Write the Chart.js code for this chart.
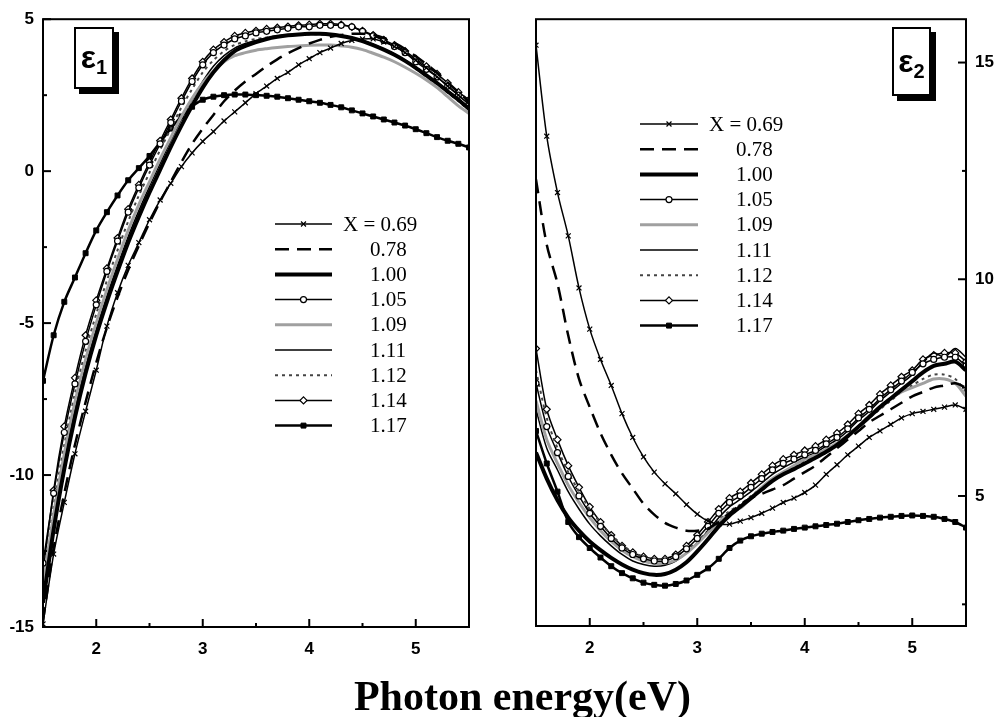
<!DOCTYPE html>
<html>
<head>
<meta charset="utf-8">
<script src="https://cdn.jsdelivr.net/npm/chart.js@4.4.1/dist/chart.umd.min.js"></script>
<style>
body{margin:0;background:#fff;width:1005px;height:717px;overflow:hidden;position:relative;font-family:'Liberation Sans',Arial,sans-serif}
canvas{position:absolute;top:0}
#c1{left:0}
#c2{left:505px}
.tag{position:absolute;background:#fff;border:2px solid #000;box-shadow:5px 5px 0 #000;font-weight:bold;color:#000;text-align:center;box-sizing:border-box}
.tag .e{font-size:32px}
.tag .s{font-size:20px;position:relative;top:6px}
#title{position:absolute;left:20px;top:675px;width:1005px;text-align:center;font-family:'Liberation Serif','Times New Roman',serif;font-weight:bold;font-size:42px;line-height:42px;color:#000}
</style>
</head>
<body>
<canvas id="c1" width="500" height="717"></canvas>
<canvas id="c2" width="500" height="717"></canvas>
<div class="tag" style="left:74px;top:27px;width:40px;height:62px;padding-top:10px"><span class="e">ε</span><span class="s">1</span></div>
<div class="tag" style="left:892px;top:27px;width:39px;height:69px;padding-top:14px"><span class="e">ε</span><span class="s">2</span></div>
<div id="title">Photon energy(eV)</div>
<script>
// photon energy (eV)
const energy = [1.5,1.6,1.7,1.8,1.9,2.0,2.1,2.2,2.3,2.4,
  2.5,2.6,2.7,2.8,2.9,3.0,3.1,3.2,3.3,3.4,
  3.5,3.6,3.7,3.8,3.9,4.0,4.1,4.2,4.3,4.4,
  4.5,4.6,4.7,4.8,4.9,5.0,5.1,5.2,5.3,5.4,5.5];

const seriesLabels = ['X = 0.69','0.78','1.00','1.05','1.09','1.11','1.12','1.14','1.17'];

// epsilon 1 (left panel)
const e1_069 = [-14.9,-12.6,-10.9,-9.3,-7.9,-6.55,-5.1,-4.0,-3.1,-2.35,
  -1.6,-0.95,-0.4,0.15,0.6,0.98,1.3,1.65,1.95,2.25,
  2.55,2.8,3.05,3.25,3.5,3.7,3.9,4.05,4.2,4.3,
  4.35,4.35,4.25,4.1,3.9,3.65,3.4,3.1,2.8,2.5,2.2];
const e1_078 = [-14.8,-12.4,-10.6,-9.0,-7.6,-6.3,-5.15,-4.15,-3.25,-2.45,
  -1.7,-1.0,-0.35,0.3,0.9,1.4,1.85,2.3,2.65,2.95,
  3.2,3.45,3.68,3.88,4.05,4.2,4.32,4.42,4.48,4.52,
  4.52,4.48,4.38,4.22,4.02,3.78,3.52,3.24,2.92,2.6,2.3];
const e1_100 = [-14.2,-11.8,-9.8,-8.1,-6.65,-5.4,-4.3,-3.3,-2.35,-1.5,
  -0.7,0.05,0.8,1.5,2.15,2.75,3.25,3.65,3.95,4.12,
  4.25,4.35,4.42,4.47,4.5,4.52,4.52,4.5,4.45,4.38,
  4.28,4.15,4.0,3.83,3.63,3.4,3.15,2.9,2.62,2.35,2.05];
const e1_105 = [-12.9,-10.6,-8.6,-7.0,-5.6,-4.4,-3.3,-2.3,-1.35,-0.55,
  0.2,0.9,1.6,2.3,2.95,3.5,3.9,4.15,4.35,4.45,
  4.55,4.6,4.65,4.7,4.75,4.75,4.8,4.8,4.8,4.75,
  4.6,4.45,4.3,4.1,3.9,3.6,3.35,3.1,2.8,2.5,2.2];
const e1_109 = [-13.6,-11.3,-9.3,-7.6,-6.2,-5.0,-3.9,-2.9,-1.95,-1.1,
  -0.35,0.4,1.1,1.8,2.4,2.9,3.3,3.6,3.8,3.9,
  3.98,4.03,4.07,4.1,4.12,4.14,4.15,4.15,4.12,4.08,
  4.0,3.88,3.75,3.6,3.42,3.22,3.0,2.75,2.45,2.15,1.9];
const e1_111 = [-13.9,-11.5,-9.5,-7.8,-6.4,-5.2,-4.1,-3.1,-2.15,-1.3,
  -0.5,0.25,1.0,1.7,2.35,2.95,3.45,3.8,4.05,4.2,
  4.3,4.38,4.44,4.48,4.5,4.52,4.52,4.5,4.46,4.4,
  4.3,4.18,4.02,3.85,3.65,3.42,3.18,2.92,2.65,2.38,2.1];
const e1_112 = [-13.4,-11.0,-9.0,-7.3,-5.9,-4.7,-3.6,-2.6,-1.65,-0.8,
  -0.05,0.7,1.4,2.1,2.7,3.25,3.65,3.95,4.15,4.27,
  4.35,4.4,4.45,4.48,4.5,4.5,4.5,4.48,4.44,4.38,
  4.28,4.15,4.0,3.82,3.62,3.38,3.12,2.86,2.58,2.3,2.0];
const e1_114 = [-13.2,-10.5,-8.4,-6.8,-5.4,-4.25,-3.2,-2.2,-1.25,-0.45,
  0.3,1.0,1.7,2.4,3.05,3.6,4.0,4.25,4.45,4.55,
  4.62,4.68,4.72,4.76,4.8,4.82,4.85,4.85,4.82,4.75,
  4.62,4.48,4.32,4.15,3.95,3.7,3.45,3.2,2.9,2.6,2.35];
const e1_117 = [-6.9,-5.4,-4.3,-3.5,-2.7,-1.95,-1.35,-0.8,-0.3,0.1,
  0.5,0.95,1.4,1.8,2.12,2.35,2.45,2.5,2.52,2.52,
  2.5,2.48,2.45,2.4,2.35,2.3,2.25,2.18,2.1,2.0,
  1.9,1.8,1.7,1.6,1.5,1.38,1.25,1.12,1.0,0.9,0.78];

// epsilon 2 (right panel)
const e2_069 = [15.4,13.3,12.0,11.0,9.8,8.85,8.15,7.55,6.9,6.35,
  5.9,5.55,5.28,5.05,4.8,4.58,4.42,4.35,4.35,4.42,
  4.5,4.6,4.72,4.85,4.95,5.08,5.25,5.5,5.72,5.95,
  6.15,6.35,6.5,6.65,6.8,6.9,6.95,7.0,7.05,7.1,7.0];
const e2_078 = [12.3,10.8,9.9,8.7,7.7,7.05,6.45,5.95,5.52,5.17,
  4.82,4.57,4.38,4.27,4.2,4.2,4.25,4.4,4.6,4.8,
  4.95,5.05,5.15,5.25,5.4,5.55,5.7,5.9,6.1,6.3,
  6.5,6.7,6.85,7.0,7.15,7.3,7.4,7.5,7.55,7.6,7.5];
const e2_100 = [6.0,5.4,4.9,4.5,4.2,3.95,3.75,3.57,3.42,3.3,
  3.22,3.18,3.2,3.3,3.47,3.72,4.0,4.3,4.55,4.75,
  4.95,5.15,5.35,5.5,5.62,5.75,5.88,6.02,6.18,6.38,
  6.6,6.82,7.05,7.25,7.45,7.65,7.85,8.0,8.05,8.1,7.9];
const e2_105 = [7.6,6.6,6.0,5.45,5.0,4.6,4.3,4.02,3.8,3.65,
  3.55,3.5,3.5,3.6,3.78,4.02,4.3,4.6,4.85,5.0,
  5.2,5.4,5.6,5.75,5.85,5.95,6.05,6.2,6.35,6.55,
  6.8,7.0,7.25,7.45,7.65,7.85,8.05,8.15,8.2,8.2,8.0];
const e2_109 = [7.2,6.3,5.75,5.25,4.85,4.5,4.2,3.95,3.75,3.6,
  3.5,3.45,3.45,3.52,3.68,3.9,4.15,4.4,4.6,4.72,
  4.95,5.2,5.4,5.55,5.7,5.85,5.95,6.08,6.22,6.4,
  6.6,6.85,7.05,7.25,7.4,7.5,7.6,7.7,7.7,7.6,7.3];
const e2_111 = [7.0,6.1,5.6,5.1,4.7,4.35,4.08,3.85,3.65,3.5,
  3.42,3.38,3.4,3.5,3.68,3.92,4.2,4.5,4.75,4.92,
  5.1,5.3,5.5,5.65,5.78,5.9,6.0,6.15,6.3,6.5,
  6.75,6.95,7.2,7.4,7.6,7.8,8.1,8.3,8.2,8.4,8.2];
const e2_112 = [7.9,6.8,6.1,5.55,5.1,4.7,4.38,4.1,3.88,3.7,
  3.6,3.55,3.55,3.62,3.75,3.95,4.2,4.45,4.65,4.8,
  5.0,5.2,5.4,5.55,5.68,5.8,5.92,6.05,6.2,6.38,
  6.6,6.8,7.0,7.2,7.4,7.55,7.7,7.8,7.8,7.7,7.4];
const e2_114 = [8.4,7.0,6.3,5.7,5.2,4.75,4.4,4.1,3.85,3.7,
  3.6,3.55,3.55,3.65,3.85,4.1,4.4,4.7,4.95,5.1,
  5.3,5.5,5.7,5.85,5.95,6.05,6.15,6.3,6.45,6.65,
  6.9,7.1,7.35,7.55,7.75,7.9,8.15,8.25,8.3,8.3,8.1];
const e2_117 = [6.5,5.75,5.1,4.4,4.05,3.8,3.58,3.38,3.22,3.1,
  3.0,2.95,2.93,2.97,3.05,3.18,3.33,3.55,3.8,3.97,
  4.07,4.13,4.17,4.2,4.24,4.27,4.3,4.33,4.36,4.4,
  4.44,4.47,4.5,4.52,4.54,4.55,4.54,4.52,4.47,4.4,4.27];

// axis ticks
const xTicks = [2,3,4,5];
const xMinor = [2.5,3.5,4.5];
const y1Ticks = [-15,-10,-5,0,5];
const y1Minor = [-12.5,-7.5,-2.5,2.5];
const y2Ticks = [5,10,15];
const y2Minor = [2.5,7.5,12.5];

// line look per series, same order as seriesLabels
const styles = [
  {borderColor:'#000', borderWidth:1.5, pointStyle:'crossRot', pointRadius:3.5, pointBorderColor:'#000', pointBackgroundColor:'#000', pointBorderWidth:1.2},
  {borderColor:'#000', borderWidth:2.5, borderDash:[14,8], pointRadius:0},
  {borderColor:'#000', borderWidth:4, pointRadius:0},
  {borderColor:'#000', borderWidth:1.5, pointStyle:'circle', pointRadius:3, pointBorderColor:'#000', pointBackgroundColor:'#fff', pointBorderWidth:1.2},
  {borderColor:'#a0a0a0', borderWidth:3, pointRadius:0},
  {borderColor:'#000', borderWidth:1.5, pointRadius:0},
  {borderColor:'#444', borderWidth:2, borderDash:[3,4], pointRadius:0},
  {borderColor:'#000', borderWidth:1.5, pointStyle:'rectRot', pointRadius:3.5, pointBorderColor:'#000', pointBackgroundColor:'#fff', pointBorderWidth:1.2},
  {borderColor:'#000', borderWidth:2.5, pointStyle:'rect', pointRadius:3.5, pointBorderColor:'#000', pointBackgroundColor:'#000', pointBorderWidth:1}
];

function makeSets(list){
  return list.map((vals, i) => Object.assign({
    label: seriesLabels[i],
    data: vals.map((v, k) => ({x: energy[k], y: v})),
    tension: 0.3,
    fill: false
  }, styles[i]));
}

const framePlugin = {
  id: 'frame',
  afterDraw(chart, args, o) {
    const ctx = chart.ctx, a = chart.chartArea;
    const xs = chart.scales.x, ys = chart.scales.y;
    ctx.save();
    ctx.strokeStyle = '#000';
    ctx.lineWidth = 2;
    ctx.strokeRect(a.left, a.top, a.right - a.left, a.bottom - a.top);
    const tickX = (vals, len) => vals.forEach(v => {
      const p = xs.getPixelForValue(v);
      ctx.beginPath(); ctx.moveTo(p, a.bottom); ctx.lineTo(p, a.bottom - len); ctx.stroke();
    });
    const tickY = (vals, len) => vals.forEach(v => {
      const p = ys.getPixelForValue(v);
      const e = o.right ? a.right : a.left;
      ctx.beginPath(); ctx.moveTo(e, p); ctx.lineTo(o.right ? e - len : e + len, p); ctx.stroke();
    });
    tickX(xTicks, 8); tickX(xMinor, 4);
    tickY(o.major, 8); tickY(o.minor, 4);
    ctx.restore();
  }
};

const legendPlugin = {
  id: 'sideLegend',
  afterDraw(chart, args, o) {
    const ctx = chart.ctx;
    const dp = Chart.helpers && Chart.helpers.drawPoint;
    chart.data.datasets.forEach((ds, i) => {
      const y = o.y + i * o.gap;
      ctx.save();
      ctx.strokeStyle = ds.borderColor;
      ctx.lineWidth = ds.borderWidth;
      ctx.setLineDash(ds.borderDash || []);
      ctx.beginPath(); ctx.moveTo(o.x, y); ctx.lineTo(o.x + o.w, y); ctx.stroke();
      ctx.setLineDash([]);
      if (ds.pointRadius > 0 && dp) {
        ctx.fillStyle = ds.pointBackgroundColor;
        ctx.strokeStyle = ds.pointBorderColor;
        ctx.lineWidth = ds.pointBorderWidth;
        dp(ctx, {pointStyle: ds.pointStyle, radius: ds.pointRadius, rotation: 0, borderWidth: ds.pointBorderWidth}, o.x + o.w / 2, y);
      }
      ctx.fillStyle = '#000';
      ctx.font = '21px "Liberation Serif", "Times New Roman", serif';
      ctx.textBaseline = 'middle';
      ctx.fillText(ds.label, o.x + o.w + (i === 0 ? 11 : 38), y + 1);
      ctx.restore();
    });
  }
};

const tickFont = {family: "'Liberation Sans', Arial, sans-serif", size: 17, weight: 'bold'};

function xScale(h){
  return {
    type: 'linear', min: 1.5, max: 5.5,
    grid: {display: false, drawTicks: false},
    border: {display: false},
    ticks: {font: tickFont, color: '#000', padding: 12, maxRotation: 0},
    afterBuildTicks: s => { s.ticks = xTicks.map(v => ({value: v})); },
    afterFit: s => { s.height = h; }
  };
}

new Chart(document.getElementById('c1'), {
  type: 'line',
  data: {datasets: makeSets([e1_069, e1_078, e1_100, e1_105, e1_109, e1_111, e1_112, e1_114, e1_117])},
  options: {
    responsive: false, animation: false, devicePixelRatio: 1,
    layout: {padding: {top: 13, right: 31, left: 0, bottom: 0}},
    plugins: {
      legend: {display: false}, tooltip: {enabled: false},
      frame: {major: y1Ticks, minor: y1Minor, right: false},
      sideLegend: {x: 275, y: 224, gap: 25.2, w: 57}
    },
    scales: {
      x: xScale(90),
      y: {
        type: 'linear', position: 'left', min: -15, max: 5,
        grid: {display: false, drawTicks: false},
        border: {display: false},
        ticks: {font: tickFont, color: '#000', padding: 9},
        afterBuildTicks: s => { s.ticks = y1Ticks.map(v => ({value: v})); },
        afterFit: s => { s.width = 43; }
      }
    }
  },
  plugins: [framePlugin, legendPlugin]
});

new Chart(document.getElementById('c2'), {
  type: 'line',
  data: {datasets: makeSets([e2_069, e2_078, e2_100, e2_105, e2_109, e2_111, e2_112, e2_114, e2_117])},
  options: {
    responsive: false, animation: false, devicePixelRatio: 1,
    layout: {padding: {top: 13, right: 0, left: 31, bottom: 0}},
    plugins: {
      legend: {display: false}, tooltip: {enabled: false},
      frame: {major: y2Ticks, minor: y2Minor, right: true},
      sideLegend: {x: 135, y: 124, gap: 25.2, w: 58}
    },
    scales: {
      x: xScale(91),
      y: {
        type: 'linear', position: 'right', min: 2, max: 16,
        grid: {display: false, drawTicks: false},
        border: {display: false},
        ticks: {font: tickFont, color: '#000', padding: 9},
        afterBuildTicks: s => { s.ticks = y2Ticks.map(v => ({value: v})); },
        afterFit: s => { s.width = 39; }
      }
    }
  },
  plugins: [framePlugin, legendPlugin]
});
</script>
</body>
</html>
